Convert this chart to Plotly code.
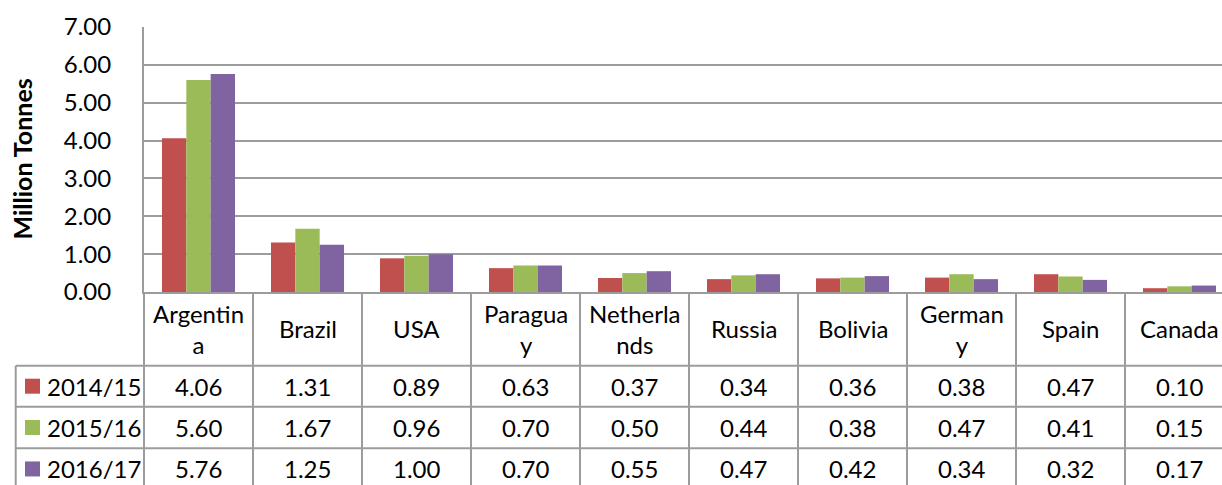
import plotly.graph_objects as go

# ---- data ----
countries = ["Argentina", "Brazil", "USA", "Paraguay", "Netherlands", "Russia",
             "Bolivia", "Germany", "Spain", "Canada"]
country_labels = ["Argentin<br>a", "Brazil", "USA", "Paragua<br>y", "Netherla<br>nds",
                  "Russia", "Bolivia", "German<br>y", "Spain", "Canada"]
seasons = ["2014/15", "2015/16", "2016/17"]
v_2014_15 = [4.06, 1.31, 0.89, 0.63, 0.37, 0.34, 0.36, 0.38, 0.47, 0.10]
v_2015_16 = [5.60, 1.67, 0.96, 0.70, 0.50, 0.44, 0.38, 0.47, 0.41, 0.15]
v_2016_17 = [5.76, 1.25, 1.00, 0.70, 0.55, 0.47, 0.42, 0.34, 0.32, 0.17]
series_values = [v_2014_15, v_2015_16, v_2016_17]
colors = ["#C0504D", "#9BBB59", "#8064A2"]
y_ticks = [0, 1, 2, 3, 4, 5, 6, 7]

# ---- layout geometry ----
W, H = 1222, 485
L, T, B = 144, 27, 193
plot_w = W - L
plot_h = H - T - B
cat_px = 109
x_max = -0.5 + plot_w / cat_px
FONT = "Lato"
FS = 24
GRID = "#9c9c9c"


def px_x(px):
    return (px - L) / plot_w


def px_y(py):
    return (H - B - py) / plot_h


fig = go.Figure()
for name, vals, col in zip(seasons, series_values, colors):
    fig.add_trace(go.Bar(x=countries, y=vals, name=name, marker_color=col,
                         marker_line_width=0))

shapes = []
annotations = []

# table geometry (pixels)
axis_y = H - B
header_bot = 365.7
row_lines = [header_bot, 406.7, 448.3, 489.6]
table_left = 15.7
bottom = 495

# vertical column lines
for k in range(len(countries) + 1):
    xp = px_x(L + k * cat_px)
    shapes.append(dict(type="line", xref="paper", yref="paper", x0=xp, x1=xp,
                       y0=px_y(axis_y), y1=px_y(bottom),
                       line=dict(color=GRID, width=2)))
# left border of legend column
shapes.append(dict(type="line", xref="paper", yref="paper",
                   x0=px_x(table_left), x1=px_x(table_left),
                   y0=px_y(header_bot), y1=px_y(bottom),
                   line=dict(color=GRID, width=2)))
# horizontal row lines
for ry in row_lines:
    shapes.append(dict(type="line", xref="paper", yref="paper",
                       x0=px_x(table_left), x1=px_x(W + 20),
                       y0=px_y(ry), y1=px_y(ry),
                       line=dict(color=GRID, width=2)))

# header labels
header_c = (axis_y + header_bot) / 2
for i, lab in enumerate(country_labels):
    annotations.append(dict(x=i, xref="x", y=px_y(header_c), yref="paper",
                            text=lab, showarrow=False, xanchor="center",
                            yanchor="middle",
                            font=dict(family=FONT, size=FS, color="#000")))

# value rows + legend keys
for r, (name, vals, col) in enumerate(zip(seasons, series_values, colors)):
    cy = (row_lines[r] + row_lines[r + 1]) / 2
    for i, v in enumerate(vals):
        annotations.append(dict(x=i, xref="x", y=px_y(cy), yref="paper",
                                text=f"{v:.2f}", showarrow=False,
                                xanchor="center", yanchor="middle",
                                font=dict(family=FONT, size=FS, color="#000")))
    shapes.append(dict(type="rect", xref="paper", yref="paper",
                       x0=px_x(25), x1=px_x(40), y0=px_y(cy - 7.5), y1=px_y(cy + 7.5),
                       fillcolor=col, line=dict(width=0)))
    annotations.append(dict(x=px_x(45), xref="paper", y=px_y(cy), yref="paper",
                            text=name, showarrow=False, xanchor="left",
                            yanchor="middle",
                            font=dict(family=FONT, size=FS, color="#000")))

# y-axis title
annotations.append(dict(x=px_x(21), xref="paper", y=0.5, yref="paper",
                        text="<b>Million Tonnes</b>", showarrow=False,
                        textangle=-90, xanchor="center", yanchor="middle",
                        font=dict(family=FONT, size=25, color="#000")))

fig.update_layout(
    width=W, height=H,
    margin=dict(l=L, r=0, t=T, b=B, autoexpand=False),
    paper_bgcolor="white", plot_bgcolor="white",
    barmode="group", bargap=0.33, bargroupgap=0,
    showlegend=False,
    shapes=shapes, annotations=annotations,
    font=dict(family=FONT, size=FS, color="#000"),
)
fig.update_xaxes(range=[-0.5, x_max], showticklabels=False, showgrid=False,
                 showline=True, linecolor=GRID, linewidth=2, zeroline=False,
                 fixedrange=True)
fig.update_yaxes(range=[0, 7], tickvals=y_ticks, tickformat=".2f",
                 showgrid=True, gridcolor=GRID, gridwidth=2,
                 showline=True, linecolor=GRID, linewidth=2, zeroline=False,
                 ticks="", ticklabelstandoff=26,
                 tickfont=dict(family=FONT, size=FS, color="#000"),
                 fixedrange=True)

fig.write_html(
    "out.html",
    config={"displayModeBar": False},
    post_script="document.body.style.margin='0';document.body.style.padding='0';"
                "document.body.style.overflow='hidden';"
                "document.documentElement.style.overflow='hidden';",
)
